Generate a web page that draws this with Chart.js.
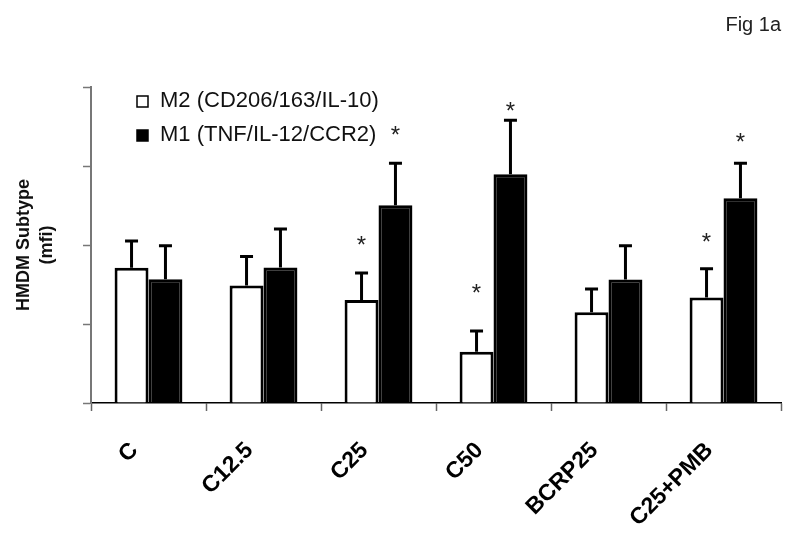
<!DOCTYPE html>
<html>
<head>
<meta charset="utf-8">
<script src="https://cdn.jsdelivr.net/npm/chart.js@4.4.1/dist/chart.umd.min.js"></script>
<style>
  html, body { margin: 0; padding: 0; background: #fff; }
  #wrap { width: 800px; height: 542px; }
</style>
</head>
<body>
<div id="wrap"><canvas id="fig"></canvas></div>
<script>
// values (y axis has no labels, scaled 0-100)
const categories = ['C', 'C12.5', 'C25', 'C50', 'BCRP25', 'C25+PMB'];
const m2Values = [42.8, 37.2, 32.6, 16.2, 28.7, 33.4];
const m2Sem = [8.5, 9.2, 8.5, 6.6, 7.4, 9.1];
const m1Values = [39.2, 42.9, 62.6, 72.4, 39.1, 64.8];
const m1Sem = [10.6, 12.2, 13.3, 17.1, 10.7, 11.1];
// where the significance stars sit (same units as the bars)
const m2Stars = [null, null, 51.6, 36.4, null, 52.6];
const m1Stars = [null, null, 86.4, 94.0, null, 84.2];
const yTicks = [0, 25, 50, 75, 100];

Chart.defaults.font.family = '"Liberation Sans", Arial, sans-serif';

// error bars (upper only) + stars
const errorBars = {
    id: 'errorBars',
    afterDatasetsDraw(chart) {
        const ctx = chart.ctx;
        const y = chart.scales.y;
        ctx.save();
        chart.data.datasets.forEach((ds, i) => {
            const meta = chart.getDatasetMeta(i);
            meta.data.forEach((bar, j) => {
                const top = y.getPixelForValue(ds.data[j] + ds.sem[j]);
                ctx.strokeStyle = '#000';
                ctx.lineWidth = 3;
                ctx.beginPath();
                ctx.moveTo(bar.x, bar.y);
                ctx.lineTo(bar.x, top);
                ctx.moveTo(bar.x - 6.5, top);
                ctx.lineTo(bar.x + 6.5, top);
                ctx.stroke();
                if (ds.stars[j] != null) {
                    ctx.fillStyle = '#222';
                    ctx.font = '24px "Liberation Sans", Arial, sans-serif';
                    ctx.textAlign = 'center';
                    ctx.textBaseline = 'alphabetic';
                    ctx.fillText('*', bar.x, y.getPixelForValue(ds.stars[j]) + 13.5);
                }
            });
        });
        ctx.restore();
    }
};

// legend sits inside the plot, top-left, stacked
const innerLegend = {
    id: 'innerLegend',
    afterDraw(chart) {
        const ctx = chart.ctx;
        const area = chart.chartArea;
        ctx.save();
        ctx.font = '22px "Liberation Sans", Arial, sans-serif';
        ctx.textBaseline = 'middle';
        ctx.textAlign = 'left';
        chart.data.datasets.forEach((ds, i) => {
            const rowY = area.top + 14 + i * 34;
            const boxX = area.left + 46;
            ctx.fillStyle = ds.backgroundColor;
            ctx.fillRect(boxX, rowY - 5, 11, 11);
            ctx.strokeStyle = '#000';
            ctx.lineWidth = 1.5;
            ctx.strokeRect(boxX, rowY - 5, 11, 11);
            ctx.fillStyle = '#111';
            ctx.fillText(ds.label, boxX + 23, rowY);
        });
        ctx.restore();
    }
};

const chart = new Chart(document.getElementById('fig'), {
    type: 'bar',
    data: {
        labels: categories,
        datasets: [
            {
                label: 'M2 (CD206/163/IL-10)',
                data: m2Values,
                sem: m2Sem,
                stars: m2Stars,
                backgroundColor: '#fff',
                borderColor: '#000',
                borderWidth: 3,
                categoryPercentage: 0.59,
                barPercentage: 1.0
            },
            {
                label: 'M1 (TNF/IL-12/CCR2)',
                data: m1Values,
                sem: m1Sem,
                stars: m1Stars,
                backgroundColor: '#000',
                borderColor: '#000',
                borderWidth: 3,
                categoryPercentage: 0.59,
                barPercentage: 1.0
            }
        ]
    },
    options: {
        responsive: true,
        maintainAspectRatio: false,
        animation: false,
        devicePixelRatio: 1,
        layout: { padding: { left: 0, right: 19, top: 0, bottom: 0 } },
        plugins: {
            legend: { display: false },
            tooltip: { enabled: false },
            title: {
                display: true,
                text: 'Fig 1a',
                align: 'end',
                color: '#222',
                font: { size: 20, weight: 'normal' },
                padding: { top: 13, bottom: 50 }
            }
        },
        scales: {
            x: {
                offset: true,
                grid: { offset: true, drawOnChartArea: false, tickLength: 8, color: '#666', tickWidth: 1.5 },
                border: { color: '#000', width: 1.5 },
                ticks: {
                    color: '#000',
                    font: { size: 23, weight: 'bold' },
                    minRotation: 45,
                    maxRotation: 45,
                    padding: 26,
                    labelOffset: -14
                },
                afterFit: (s) => { s.height = 139; }
            },
            y: {
                min: 0,
                max: 100,
                afterBuildTicks: (s) => { s.ticks = yTicks.map(v => ({ value: v })); },
                grid: { drawOnChartArea: false, tickLength: 8, color: '#777', tickWidth: 1.5 },
                border: { color: '#777', width: 2 },
                ticks: { display: false },
                title: {
                    display: true,
                    text: ['HMDM Subtype', '(mfi)'],
                    color: '#111',
                    font: { size: 18, weight: 'bold', lineHeight: 1.25 },
                    padding: { top: 13, bottom: 0 }
                },
                afterFit: (s) => { s.width = 91; }
            }
        }
    },
    plugins: [errorBars, innerLegend]
});
</script>
</body>
</html>
